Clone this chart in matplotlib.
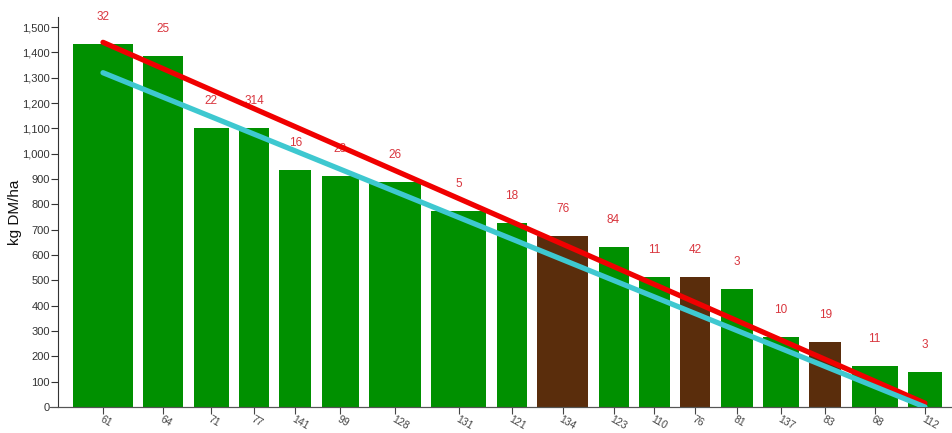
import numpy as np
import matplotlib
matplotlib.use("Agg")
import matplotlib.pyplot as plt
from matplotlib.ticker import FuncFormatter

plt.rcParams['font.family'] = ['Liberation Sans', 'DejaVu Sans']

# paddock data
paddocks = ["61", "64", "71", "77", "141", "99", "128", "131", "121",
            "134", "123", "110", "76", "81", "137", "83", "68", "112"]
cover = [1435, 1385, 1100, 1100, 936, 912, 888, 774, 726,
         675, 632, 513, 513, 466, 276, 257, 162, 138]
widths = [60, 40, 35, 30, 32, 37, 52, 55, 30, 51, 30, 31, 30, 32, 36, 32, 46, 34]
top_labels = ["32", "25", "22", "314", "16", "23", "26", "5", "18",
              "76", "84", "11", "42", "3", "10", "19", "11", "3"]
grazed = [False] * 18
for i in (9, 12, 15):
    grazed[i] = True

# wedge lines, start and end values
red_line = [1440, 15]
cyan_line = [1320, 0]

GAP = 10.35
lefts = []
x = 0.0
for w in widths:
    lefts.append(x)
    x += w + GAP
lefts = np.array(lefts)
centers = lefts + np.array(widths) / 2

fig = plt.figure(figsize=(9.52, 4.33), dpi=100)
ax = fig.add_axes([58 / 952, 26 / 433, 894 / 952, 390 / 433])

colors = ["#5a2d0c" if g else "#009000" for g in grazed]
ax.bar(lefts, cover, width=widths, align="edge", color=colors, zorder=1)

for cx, v, lab in zip(centers, cover, top_labels):
    ax.annotate(lab, (cx, v), xytext=(0, 27), textcoords="offset pixels",
                ha="center", va="center", fontsize=8.5, color="#d9363e", zorder=2)

ax.plot([centers[0], centers[-1]], red_line, color="#f00000", lw=3.8,
        solid_capstyle="round", zorder=3)
ax.plot([centers[0], centers[-1]], cyan_line, color="#3ec8d0", lw=3.8,
        solid_capstyle="round", zorder=4)

ax.set_xlim(-15, 879)
ax.set_ylim(0, 1540)

for s in ("top", "right"):
    ax.spines[s].set_visible(False)
ax.spines["left"].set_color("#333333")
ax.spines["bottom"].set_color("#555555")
ax.axhline(0, xmin=-8 / 894, xmax=1, color="#555555", lw=0.8, clip_on=False)

ax.set_yticks(np.arange(0, 1501, 100))
ax.yaxis.set_major_formatter(FuncFormatter(lambda v, p: f"{int(v):,}"))
ax.tick_params(axis="y", length=5, width=0.8, colors="#333333", labelsize=8, pad=1)
ax.set_xticks(centers)
ax.set_xticklabels(paddocks, rotation=-30, ha="left", va="top", rotation_mode="anchor")
ax.tick_params(axis="x", length=5, width=0.8, colors="#444444", labelsize=7.5, pad=0)
for t in ax.get_xticklabels():
    t.set_x(t.get_position()[0])

ax.set_ylabel("kg DM/ha", fontsize=11, color="#111111")
ax.yaxis.set_label_coords(-0.040, 0.5)

fig.savefig("out.png", dpi=100)
